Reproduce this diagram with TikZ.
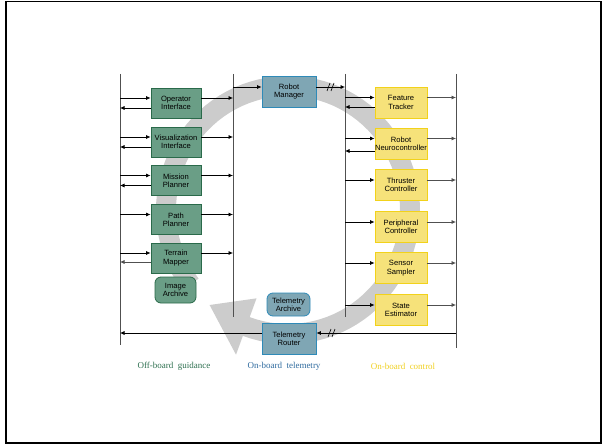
\documentclass[tikz,border=0pt]{standalone}
\usepackage{fontspec}
\setmainfont{Liberation Sans}
\newfontfamily\labelfont{Liberation Serif}
\usetikzlibrary{arrows.meta,calc}
\definecolor{gfill}{HTML}{6A9E86}
\definecolor{gdraw}{HTML}{2A6A4A}
\definecolor{bfill}{HTML}{7FA6B4}
\definecolor{bdraw}{HTML}{2E8AB8}
\definecolor{yfill}{HTML}{F6E27A}
\definecolor{ydraw}{HTML}{F2D21A}
\definecolor{bandgray}{HTML}{CCCCCC}
\definecolor{busgray}{HTML}{505050}
\definecolor{gtext}{HTML}{2E7050}
\definecolor{btext}{HTML}{2E6A9E}
\definecolor{ytext}{HTML}{F0D020}
\tikzset{
  box/.style={draw, line width=0.8pt, minimum width=50pt, minimum height=30pt, inner sep=0pt, align=center, font=\fontsize{7.6}{8.4}\selectfont},
  gbox/.style={box, fill=gfill, draw=gdraw},
  bbox/.style={box, fill=bfill, draw=bdraw, minimum width=54pt, minimum height=31pt},
  ybox/.style={box, fill=yfill, draw=ydraw, minimum width=52pt, minimum height=31pt},
  arch/.style={box, rounded corners=6pt},
  arr/.style={-{Latex[length=4.5pt,width=4pt]}, line width=0.7pt},
  busline/.style={line width=1pt, draw=busgray},
  brk/.style={line width=0.6pt},
  grouplabel/.style={font=\labelfont\fontsize{9}{10}\selectfont, inner sep=0pt}
}
\begin{document}
\begin{tikzpicture}[x=1pt,y=-1pt]
\useasboundingbox (0,0) rectangle (605,444);
\draw[line width=1.6pt] (6,1.5) rectangle (601,443);
% circular band
\fill[bandgray] plot[domain=143:470, samples=90] ({288+132*cos(\x)},{210+134*sin(\x)})
  -- ({288+152*cos(470)},{210+154*sin(470)})
  -- ({288+122*cos(490)},{210+124*sin(490)})
  -- ({288+92*cos(470)},{210+94*sin(470)})
  -- plot[domain=470:143, samples=90] ({288+112*cos(\x)},{210+114*sin(\x)}) -- cycle;
% buses
\coordinate (A) at (120,74); \coordinate (A2) at (120,345);
\coordinate (B) at (233,74); \coordinate (B2) at (233,317);
\coordinate (C) at (345,74); \coordinate (C2) at (345,317);
\coordinate (D) at (456,74); \coordinate (D2) at (456,348);
\draw[busline] (A) -- (A2);
\draw[busline] (B) -- (B2);
\draw[busline] (C) -- (C2);
\draw[busline] (D) -- (D2);
% left column
\node[gbox] (op) at (176,103) {Operator\\Interface};
\node[gbox] (vis) at (176,142) {Visualization\\Interface};
\node[gbox] (mis) at (176,180.5) {Mission\\Planner};
\node[gbox] (path) at (176,219.5) {Path\\Planner};
\node[gbox] (ter) at (176,258) {Terrain\\Mapper};
\node[gbox, arch, minimum width=41pt, minimum height=26pt] (img) at (175.5,290) {Image\\Archive};
% middle
\node[bbox] (rm) at (289,91.5) {Robot\\Manager};
\node[bbox, arch, minimum width=43pt, minimum height=23pt] (ta) at (288.5,304.5) {Telemetry\\Archive};
\node[bbox] (tr) at (289,338.5) {Telemetry\\Router};
% right column
\node[ybox] (ft) at (401,102.5) {Feature\\Tracker};
\node[ybox] (rn) at (401,143.5) {Robot\\Neurocontroller};
\node[ybox] (tc) at (401,185) {Thruster\\Controller};
\node[ybox] (pc) at (401,227) {Peripheral\\Controller};
\node[ybox] (ss) at (401,268) {Sensor\\Sampler};
\node[ybox] (se) at (401,310) {State\\Estimator};
% left connectors
\foreach \n in {op,vis,mis,path,ter}{
  \draw[arr] ($(\n.west -| A)+(0,-5)$) -- ($(\n.west)+(0,-5)$);
  \draw[arr] ($(\n.east)+(0,-5)$) -- ($(\n.east -| B)+(0,-5)$);
}
\foreach \n in {op,vis,mis}{
  \draw[arr] ($(\n.west)+(0,5)$) -- ($(\n.west -| A)+(0,5)$);
}
\draw[arr, draw=busgray] ($(ter.west)+(0,4)$) -- ($(ter.west -| A)+(0,4)$);
% robot manager
\draw[arr] ($(rm.west -| B)+(0,-4.5)$) -- ($(rm.west)+(0,-4.5)$);
\draw[arr] ($(rm.east)+(0,-4.5)$) -- ($(rm.east -| C)+(0,-4.5)$);
\draw[brk] (327,91) -- (330,83);
\draw[brk] (331,91) -- (334,83);
% right connectors
\foreach \n in {ft,rn,tc,pc,ss,se}{
  \draw[arr] ($(\n.west -| C)+(0,-5)$) -- ($(\n.west)+(0,-5)$);
  \draw[arr, draw=busgray] ($(\n.east)+(0,-5)$) -- ($(\n.east -| D)+(0,-5)$);
}
\draw[arr] ($(ft.west)+(0,4.5)$) -- ($(ft.west -| C)+(0,4.5)$);
\draw[arr] ($(rn.west)+(0,7.5)$) -- ($(rn.west -| C)+(0,7.5)$);
% telemetry router
\draw[arr] ($(tr.east -| D)+(0,-5.5)$) -- ($(tr.east)+(0,-5.5)$);
\draw[arr] ($(tr.west)+(0,-5.5)$) -- ($(tr.west -| A)+(0,-5.5)$);
\draw[brk] (328,337) -- (331,329);
\draw[brk] (332,337) -- (335,329);
% group labels
\node[grouplabel, text=gtext] (lg) at (174,366) {Off-board\ \ guidance};
\node[grouplabel, text=btext] (lt) at (284,366) {On-board\ \ telemetry};
\node[grouplabel, text=ytext] (lc) at (403,366) {On-board\ \ control};
\end{tikzpicture}
\end{document}
